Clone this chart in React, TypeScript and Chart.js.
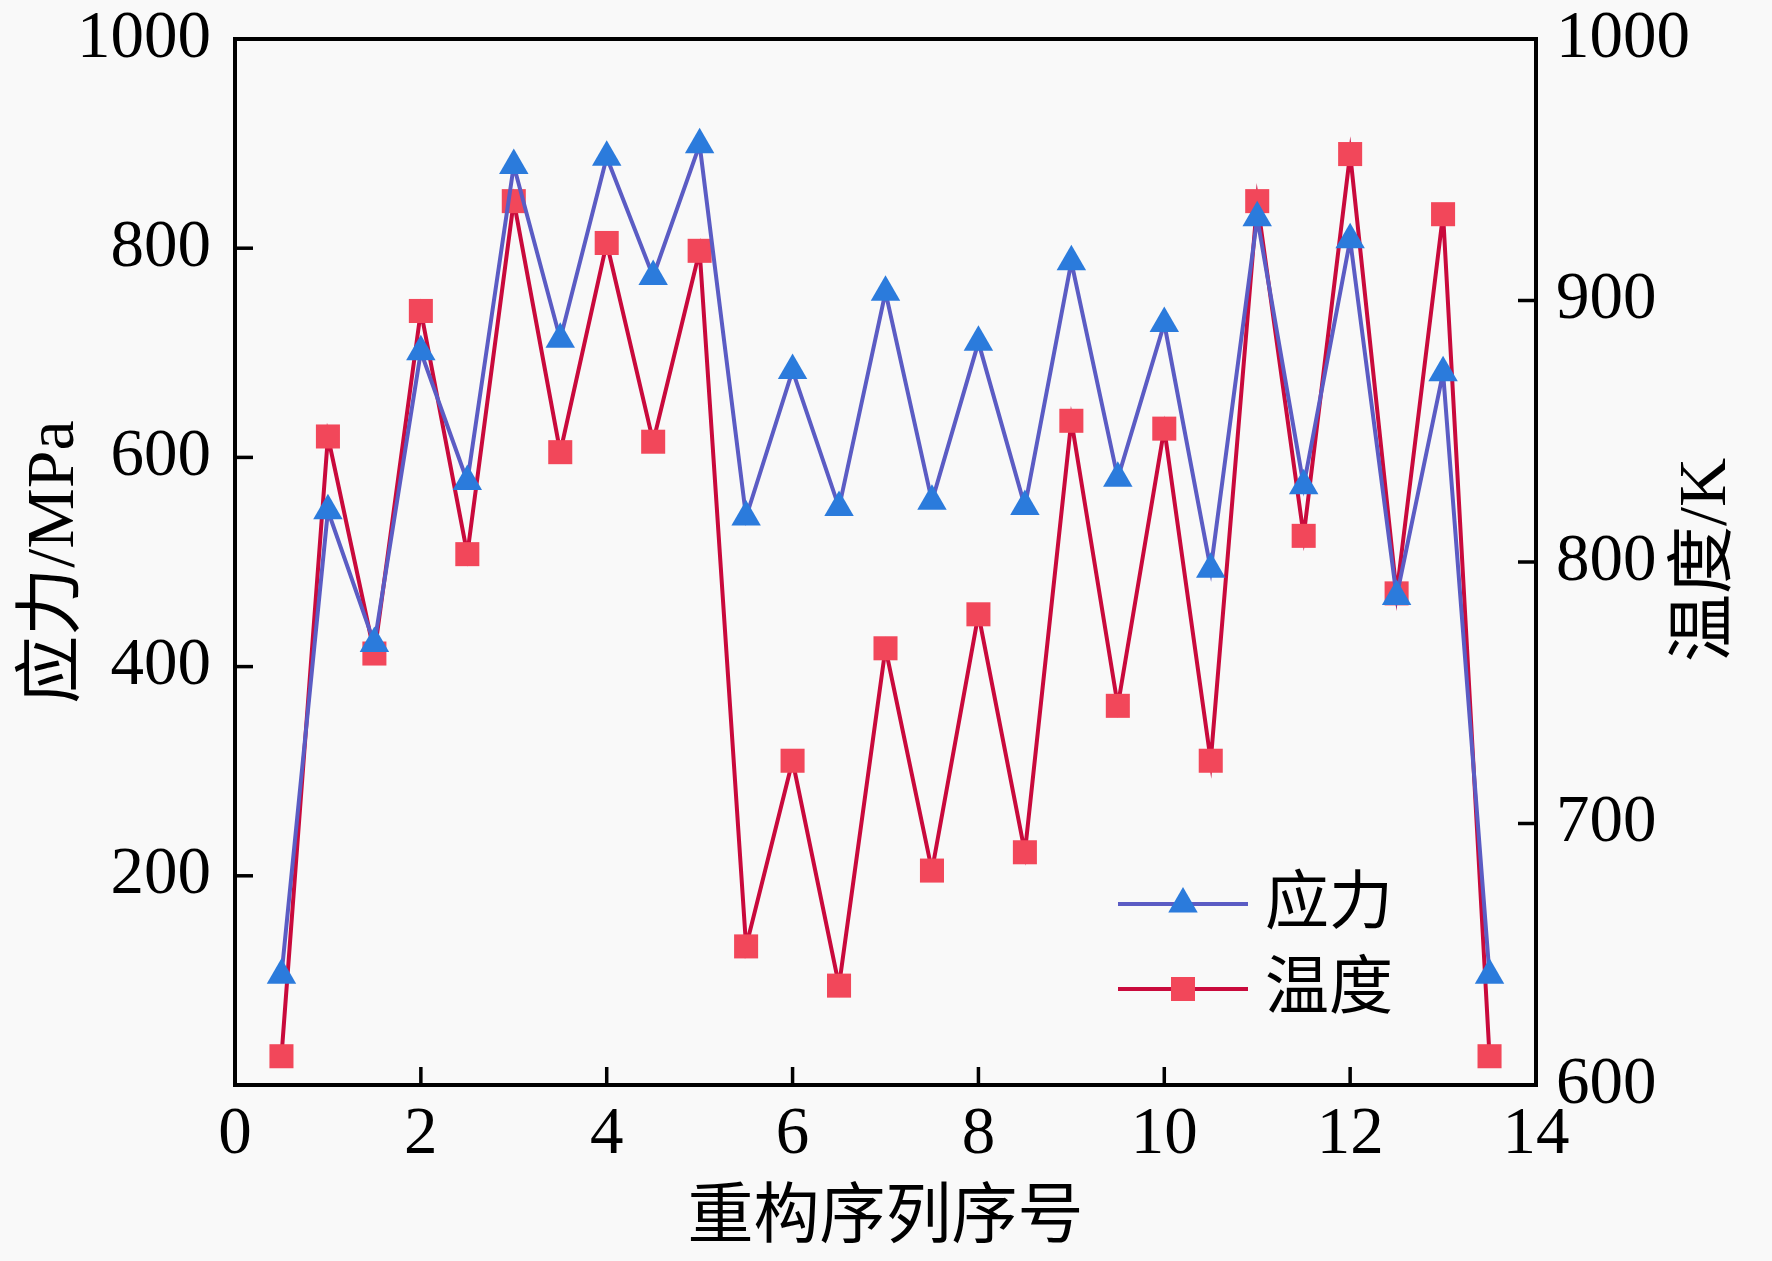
import React, { useEffect, useRef } from "react";
import { Chart, registerables } from "chart.js";

Chart.register(...registerables);

// 重构序列序号
const seqIndex = [0.5, 1, 1.5, 2, 2.5, 3, 3.5, 4, 4.5, 5, 5.5, 6, 6.5, 7, 7.5, 8, 8.5, 9, 9.5, 10, 10.5, 11, 11.5, 12, 12.5, 13, 13.5];
// 应力 / MPa
const stressMPa = [105, 549, 422, 701, 577, 879, 713, 887, 773, 899, 543, 683, 552, 758, 558, 710, 553, 787, 580, 728, 493, 829, 573, 808, 467, 681, 105];
// 温度 / K
const temperatureK = [611, 848, 765, 896, 803, 938, 842, 922, 846, 919, 653, 724, 638, 767, 682, 780, 689, 854, 745, 851, 724, 938, 810, 956, 788, 933, 611];

const xTickValues = [0, 2, 4, 6, 8, 10, 12, 14];
const leftTickValues = [200, 400, 600, 800, 1000];
const rightTickValues = [600, 700, 800, 900, 1000];

const seriesNames = ["应力", "温度"];
const xTitle = "重构序列序号";
const yLeftTitle = "应力/MPa";
const yRightTitle = "温度/K";

const W = 1772;
const H = 1261;
const BG = "#f9f9f9";
const STRESS_LINE = "#5b5cc4";
const STRESS_MARK = "#2b7bdc";
const TEMP_LINE = "#c90a3c";
const TEMP_MARK = "#f2475a";
const SERIF = "'Liberation Serif', 'Times New Roman', 'Noto Sans CJK SC', serif";

function drawTriangle(ctx: CanvasRenderingContext2D, x: number, y: number, r: number) {
  ctx.beginPath();
  ctx.moveTo(x, y - r);
  ctx.lineTo(x + 0.866 * r, y + 0.5 * r);
  ctx.lineTo(x - 0.866 * r, y + 0.5 * r);
  ctx.closePath();
  ctx.fill();
}

const decorPlugin = {
  id: "decor",
  beforeDraw(chart: any) {
    const ctx = chart.ctx;
    ctx.save();
    ctx.fillStyle = BG;
    ctx.fillRect(0, 0, chart.width, chart.height);
    ctx.restore();
  },
  afterDraw(chart: any) {
    const ctx: CanvasRenderingContext2D = chart.ctx;
    const a = chart.chartArea;
    const xs = chart.scales.x;
    const yl = chart.scales.y;
    const yr = chart.scales.y1;
    ctx.save();
    // inward ticks
    ctx.strokeStyle = "#000";
    ctx.lineWidth = 3.5;
    const tl = 18;
    xTickValues.forEach((v) => {
      if (v === 0 || v === 14) return;
      const px = xs.getPixelForValue(v);
      ctx.beginPath();
      ctx.moveTo(px, a.bottom);
      ctx.lineTo(px, a.bottom - tl);
      ctx.stroke();
    });
    leftTickValues.forEach((v) => {
      if (v === 1000) return;
      const py = yl.getPixelForValue(v);
      ctx.beginPath();
      ctx.moveTo(a.left, py);
      ctx.lineTo(a.left + tl, py);
      ctx.stroke();
    });
    rightTickValues.forEach((v) => {
      if (v === 600 || v === 1000) return;
      const py = yr.getPixelForValue(v);
      ctx.beginPath();
      ctx.moveTo(a.right, py);
      ctx.lineTo(a.right - tl, py);
      ctx.stroke();
    });
    // frame
    ctx.lineWidth = 4;
    ctx.strokeRect(a.left, a.top, a.right - a.left, a.bottom - a.top);

    // axis titles
    ctx.fillStyle = "#000";
    ctx.textAlign = "center";
    ctx.textBaseline = "middle";
    ctx.font = `66px ${SERIF}`;
    ctx.fillText(xTitle, (a.left + a.right) / 2, 1220);

    ctx.font = `68px ${SERIF}`;
    ctx.save();
    ctx.translate(55, (a.top + a.bottom) / 2);
    ctx.rotate(-Math.PI / 2);
    ctx.fillText(yLeftTitle, 0, 0);
    ctx.restore();

    ctx.save();
    ctx.translate(1707, (a.top + a.bottom) / 2 - 2);
    ctx.rotate(-Math.PI / 2);
    ctx.fillText(yRightTitle, 0, 0);
    ctx.restore();

    // legend
    const lx0 = 1118, lx1 = 1248, mx = 1183, tx = 1265;
    const rows = [
      { y: 904, line: STRESS_LINE, mark: STRESS_MARK, kind: "tri", label: seriesNames[0] },
      { y: 989, line: TEMP_LINE, mark: TEMP_MARK, kind: "rect", label: seriesNames[1] },
    ];
    rows.forEach((r) => {
      ctx.strokeStyle = r.line;
      ctx.lineWidth = 4;
      ctx.beginPath();
      ctx.moveTo(lx0, r.y);
      ctx.lineTo(lx1, r.y);
      ctx.stroke();
      ctx.fillStyle = r.mark;
      if (r.kind === "tri") drawTriangle(ctx, mx, r.y, 17);
      else ctx.fillRect(mx - 12, r.y - 12, 24, 24);
      ctx.fillStyle = "#000";
      ctx.textAlign = "left";
      ctx.textBaseline = "middle";
      ctx.font = `64px ${SERIF}`;
      ctx.fillText(r.label, tx, r.y + 2);
    });
    ctx.restore();
  },
};

const fmt = (v: any) => String(v);

export default function App() {
  const ref = useRef<HTMLCanvasElement | null>(null);
  useEffect(() => {
    document.body.style.margin = "0";
    document.body.style.background = BG;
    const canvas = ref.current;
    if (!canvas) return;
    const font = { family: SERIF, size: 67 };
    const zeroPad = (s: any) => {
      s.paddingTop = 0;
      s.paddingBottom = 0;
      s.paddingLeft = 0;
      s.paddingRight = 0;
    };
    const chart = new Chart(canvas, {
      type: "line",
      data: {
        datasets: [
          {
            label: seriesNames[0],
            data: seqIndex.map((x, i) => ({ x, y: stressMPa[i] })),
            yAxisID: "y",
            borderColor: STRESS_LINE,
            borderWidth: 4,
            pointStyle: "triangle",
            pointRadius: 17,
            pointBackgroundColor: STRESS_MARK,
            pointBorderColor: STRESS_MARK,
            pointBorderWidth: 0,
            tension: 0,
            fill: false,
          },
          {
            label: seriesNames[1],
            data: seqIndex.map((x, i) => ({ x, y: temperatureK[i] })),
            yAxisID: "y1",
            borderColor: TEMP_LINE,
            borderWidth: 4,
            pointStyle: "rect",
            pointRadius: 17,
            pointBackgroundColor: TEMP_MARK,
            pointBorderColor: TEMP_MARK,
            pointBorderWidth: 0,
            tension: 0,
            fill: false,
          },
        ],
      },
      options: {
        animation: false,
        responsive: false,
        devicePixelRatio: 1,
        layout: { padding: { top: 39, left: 0, right: 0, bottom: 0 } },
        plugins: { legend: { display: false }, tooltip: { enabled: false } },
        scales: {
          x: {
            type: "linear",
            position: "bottom",
            min: 0,
            max: 14,
            afterBuildTicks: (s: any) => {
              s.ticks = xTickValues.map((v) => ({ value: v }));
            },
            ticks: { font, color: "#000", padding: 10, maxRotation: 0, autoSkip: false, callback: fmt },
            grid: { display: false, drawTicks: false },
            border: { display: false },
            afterFit: (s: any) => {
              s.height = 176;
              zeroPad(s);
            },
          },
          y: {
            type: "linear",
            position: "left",
            min: 0,
            max: 1000,
            afterBuildTicks: (s: any) => {
              s.ticks = leftTickValues.map((v) => ({ value: v }));
            },
            ticks: { font, color: "#000", padding: 24, autoSkip: false, callback: fmt },
            grid: { display: false, drawTicks: false },
            border: { display: false },
            afterFit: (s: any) => {
              s.width = 235;
              zeroPad(s);
            },
          },
          y1: {
            type: "linear",
            position: "right",
            min: 600,
            max: 1000,
            afterBuildTicks: (s: any) => {
              s.ticks = rightTickValues.map((v) => ({ value: v }));
            },
            ticks: { font, color: "#000", padding: 20, autoSkip: false, callback: fmt },
            grid: { display: false, drawTicks: false },
            border: { display: false },
            afterFit: (s: any) => {
              s.width = 236;
              zeroPad(s);
            },
          },
        },
      },
      plugins: [decorPlugin],
    } as any);
    return () => chart.destroy();
  }, []);
  return (
    <div style={{ width: W, height: H, background: BG }}>
      <canvas ref={ref} width={W} height={H} style={{ display: "block", width: W, height: H }} />
    </div>
  );
}
